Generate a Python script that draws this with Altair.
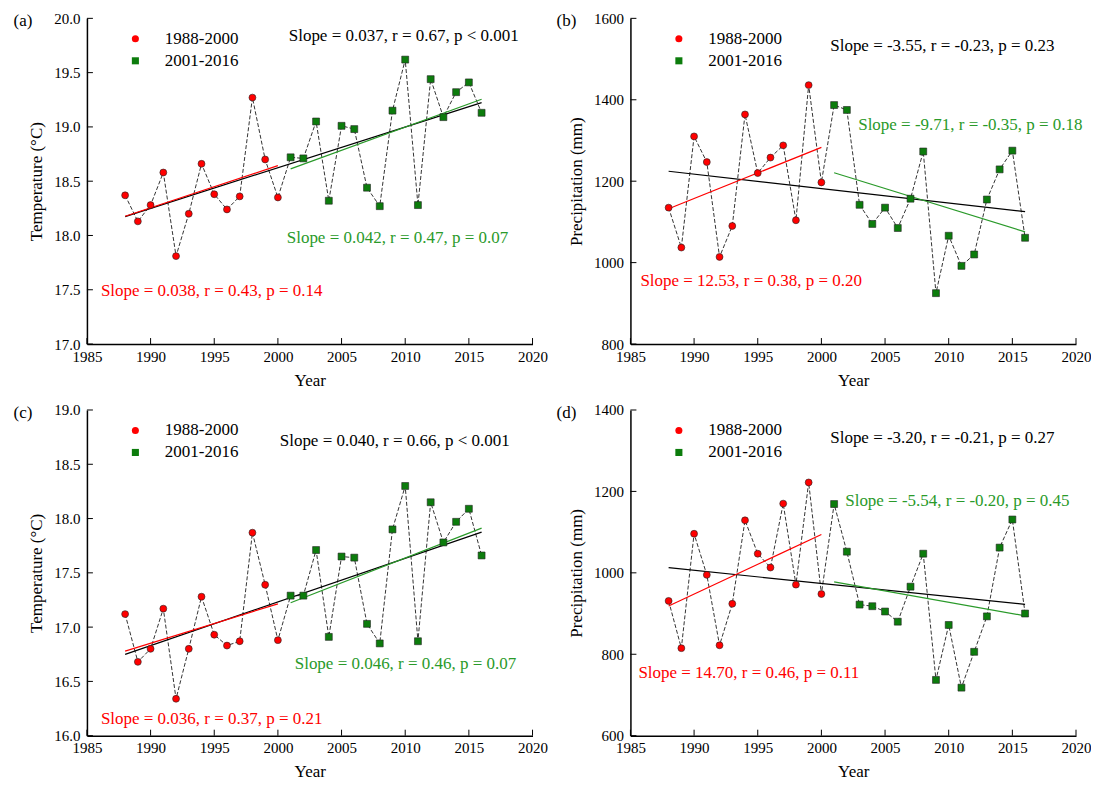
import altair as alt
import pandas as pd

years = list(range(1988, 2017))
periods = ["1988-2000", "2001-2016"]

temp_a = [18.37, 18.13, 18.28, 18.58, 17.81, 18.20, 18.66, 18.38, 18.24, 18.36, 19.27, 18.70, 18.35,
          18.72, 18.71, 19.05, 18.32, 19.01, 18.98, 18.44, 18.27, 19.15, 19.62, 18.28, 19.44, 19.09,
          19.32, 19.41, 19.13]
prec_b = [1135, 1037, 1310, 1247, 1014, 1090, 1364, 1220, 1258, 1288, 1104, 1436, 1197,
          1387, 1375, 1142, 1095, 1135, 1085, 1157, 1273, 925, 1066, 992, 1020, 1155, 1229, 1275, 1061]
temp_c = [17.12, 16.68, 16.80, 17.17, 16.34, 16.80, 17.28, 16.93, 16.83, 16.87, 17.87, 17.39, 16.88,
          17.29, 17.29, 17.71, 16.91, 17.65, 17.64, 17.03, 16.85, 17.90, 18.30, 16.87, 18.15, 17.78,
          17.97, 18.09, 17.66]
prec_d = [931, 815, 1096, 995, 822, 924, 1129, 1047, 1013, 1170, 971, 1222, 948,
          1169, 1052, 922, 918, 905, 880, 966, 1047, 737, 872, 718, 806, 893, 1062, 1131, 900]

x_ticks = [1985, 1990, 1995, 2000, 2005, 2010, 2015, 2020]
yticks_a = [17.0, 17.5, 18.0, 18.5, 19.0, 19.5, 20.0]
yticks_b = [800, 1000, 1200, 1400, 1600]
yticks_c = [16.0, 16.5, 17.0, 17.5, 18.0, 18.5, 19.0]
yticks_d = [600, 800, 1000, 1200, 1400]

ann_a = ["Slope = 0.037, r = 0.67, p < 0.001", "Slope = 0.042, r = 0.47, p = 0.07", "Slope = 0.038, r = 0.43, p = 0.14"]
ann_b = ["Slope = -3.55, r = -0.23, p = 0.23", "Slope = -9.71, r = -0.35, p = 0.18", "Slope = 12.53, r = 0.38, p = 0.20"]
ann_c = ["Slope = 0.040, r = 0.66, p < 0.001", "Slope = 0.046, r = 0.46, p = 0.07", "Slope = 0.036, r = 0.37, p = 0.21"]
ann_d = ["Slope = -3.20, r = -0.21, p = 0.27", "Slope = -5.54, r = -0.20, p = 0.45", "Slope = 14.70, r = 0.46, p = 0.11"]

FONT = "Liberation Serif"
RED = "#ff0000"
GREEN_M = "#0c7c0c"
GREEN_L = "#2a9a2a"
W, H = 446, 326
TICK = 6


def panel(values, ydom, yticks, yfmt, ytitle, tag, texts, pos):
    df = pd.DataFrame({"Year": years, "Value": values})
    df["Period"] = [periods[0] if y <= 2000 else periods[1] for y in years]
    base = alt.Chart(df)
    xs = alt.Scale(domain=[1985, 2020], nice=False, zero=False)
    ys = alt.Scale(domain=ydom, nice=False, zero=False)
    xenc = alt.X("Year:Q", scale=xs,
                 axis=alt.Axis(values=x_ticks, format="d", title="Year", labelFlush=False))
    yenc = alt.Y("Value:Q", scale=ys,
                 axis=alt.Axis(values=yticks, format=yfmt, title=ytitle, labelFlush=False))

    dashed = base.mark_line(color="black", strokeDash=[4, 2], strokeWidth=0.8).encode(x=xenc, y=yenc)
    reg_all = base.transform_regression("Year", "Value").mark_line(
        color="black", strokeWidth=1.2).encode(x=xenc, y=yenc)
    reg_red = base.transform_filter(alt.datum.Period == periods[0]).transform_regression(
        "Year", "Value").mark_line(color=RED, strokeWidth=1.2).encode(x=xenc, y=yenc)
    reg_green = base.transform_filter(alt.datum.Period == periods[1]).transform_regression(
        "Year", "Value").mark_line(color=GREEN_L, strokeWidth=1.2).encode(x=xenc, y=yenc)

    legend = alt.Legend(orient="none", legendX=40, legendY=12, title=None, padding=0,
                        labelFont=FONT, labelFontSize=17, labelColor="black",
                        symbolSize=50, labelOffset=21, rowPadding=4, symbolStrokeWidth=0)
    pts = base.mark_point(filled=True, opacity=1, size=48, stroke="#222222", strokeWidth=0.6).encode(
        x=xenc, y=yenc,
        color=alt.Color("Period:N", scale=alt.Scale(domain=periods, range=[RED, GREEN_M]), legend=legend),
        shape=alt.Shape("Period:N", scale=alt.Scale(domain=periods, range=["circle", "square"]), legend=legend),
    )

    xt = alt.Chart(pd.DataFrame({"Year": x_ticks})).mark_rule(color="black", strokeWidth=1).encode(
        x=xenc, y=alt.value(H), y2=alt.value(H - TICK))
    yt = alt.Chart(pd.DataFrame({"Value": yticks})).mark_rule(color="black", strokeWidth=1).encode(
        y=yenc, x=alt.value(0), x2=alt.value(TICK))

    colors = ["black", GREEN_L, RED]
    anns = []
    for t, c, (px, py) in zip(texts, colors, pos):
        anns.append(alt.Chart(pd.DataFrame({"label": [t]})).mark_text(
            align="left", baseline="middle", font=FONT, fontSize=17, color=c
        ).encode(x=alt.value(px), y=alt.value(py), text="label:N"))

    tag_mark = alt.Chart(pd.DataFrame({"label": [tag]})).mark_text(
        align="center", baseline="middle", font=FONT, fontSize=17, color="black"
    ).encode(x=alt.value(-64), y=alt.value(3), text="label:N")

    return alt.layer(dashed, reg_all, reg_red, reg_green, xt, yt, pts, *anns, tag_mark).properties(
        width=W, height=H)


pa = panel(temp_a, [17, 20], yticks_a, ".1f", "Temperature (°C)", "(a)", ann_a,
           [(202, 18), (200, 220), (14, 273)])
pb = panel(prec_b, [800, 1600], yticks_b, "d", "Precipitation (mm)", "(b)", ann_b,
           [(200, 28), (228, 107), (10, 263)])
pc = panel(temp_c, [16, 19], yticks_c, ".1f", "Temperature (°C)", "(c)", ann_c,
           [(193, 31), (208, 254), (14, 309)])
pd_ = panel(prec_d, [600, 1400], yticks_d, "d", "Precipitation (mm)", "(d)", ann_d,
            [(200, 28), (215, 91), (8, 263)])

chart = alt.concat(pa, pb, pc, pd_, columns=2, spacing=alt.RowColnumber(row=15, column=9)).resolve_scale(
    color="independent", shape="independent"
).properties(
    padding={"left": 5, "top": 3, "right": 0, "bottom": 0}
).configure_view(stroke=None).configure_axis(
    domainColor="black", domainWidth=1.5, grid=False, ticks=False, tickSize=0,
    labelFont=FONT, labelFontSize=15, labelColor="black", labelPadding=7,
    titleFont=FONT, titleFontSize=17, titleFontWeight="normal", titleColor="black",
).configure_axisX(titlePadding=8, labelPadding=5).configure_axisY(titlePadding=8)

chart.save("out.html", embed_options={"renderer": "svg", "actions": False})
